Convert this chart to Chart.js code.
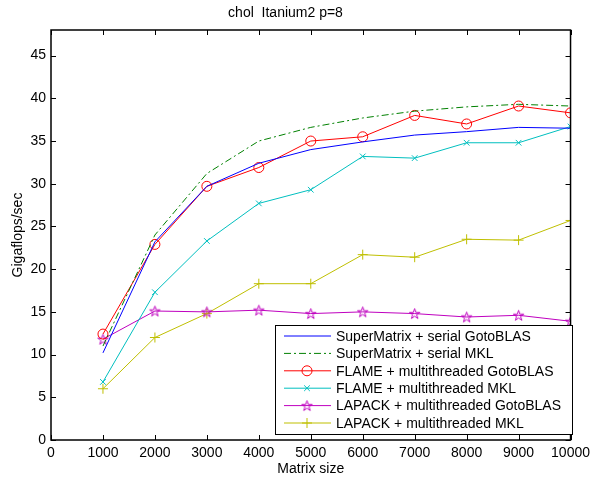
<!DOCTYPE html>
<html>
<head>
<meta charset="utf-8">
<script src="https://cdn.jsdelivr.net/npm/chart.js@4.4.0/dist/chart.umd.min.js"></script>
<style>
  html, body { margin: 0; padding: 0; background: #fff; }
  #wrap { width: 595px; height: 478px; }
</style>
</head>
<body>
<div id="wrap"><canvas id="c" width="595" height="478"></canvas></div>
<script>
/* ── data ─────────────────────────────────────────────── */
const sizes = [1000, 2000, 3000, 4000, 5000, 6000, 7000, 8000, 9000, 10000];

const smGoto   = [10.2, 23.2, 29.7, 32.4, 34.0, 34.9, 35.7, 36.1, 36.6, 36.5];
const smMkl    = [11.0, 24.0, 31.2, 35.0, 36.6, 37.7, 38.5, 39.0, 39.3, 39.1];
const flGoto   = [12.4, 22.9, 29.7, 31.9, 35.0, 35.5, 38.0, 37.0, 39.1, 38.3];
const flMkl    = [6.8, 17.3, 23.3, 27.7, 29.3, 33.2, 33.0, 34.8, 34.8, 36.7];
const lapGoto  = [11.8, 15.1, 15.0, 15.2, 14.8, 15.0, 14.8, 14.4, 14.6, 13.9];
const lapMkl   = [6.0, 12.0, 14.8, 18.3, 18.3, 21.7, 21.4, 23.5, 23.4, 25.7];

const seriesLabels = [
  'SuperMatrix + serial GotoBLAS',
  'SuperMatrix + serial MKL',
  'FLAME + multithreaded GotoBLAS',
  'FLAME + multithreaded MKL',
  'LAPACK + multithreaded GotoBLAS',
  'LAPACK + multithreaded MKL'
];

const FONT = 'Liberation Sans, Arial, sans-serif';

/* pentagram marker (matlab 'p') */
function pentagram(color) {
  const s = 13, c = document.createElement('canvas');
  c.width = s; c.height = s;
  const g = c.getContext('2d');
  const R = 5.5, r = R * 0.382, cx = s / 2, cy = s / 2 + 0.5;
  g.beginPath();
  for (let i = 0; i < 10; i++) {
    const a = -Math.PI / 2 + i * Math.PI / 5;
    const rr = i % 2 ? r : R;
    g.lineTo(cx + rr * Math.cos(a), cy + rr * Math.sin(a));
  }
  g.closePath();
  g.strokeStyle = color; g.lineWidth = 1;
  g.stroke();
  return c;
}

const star = pentagram('#bf00bf');

function pts(arr) { return sizes.map((x, i) => ({ x: x, y: arr[i] })); }

const datasets = [
  { data: pts(smGoto), borderColor: '#0000ff', pointRadius: 0 },
  { data: pts(smMkl), borderColor: '#008000', borderDash: [7, 3, 2, 3], pointRadius: 0 },
  { data: pts(flGoto), borderColor: '#ff0000', pointStyle: 'circle', pointRadius: 5 },
  { data: pts(flMkl), borderColor: '#00bfbf', pointStyle: 'crossRot', pointRadius: 4 },
  { data: pts(lapGoto), borderColor: '#bf00bf', pointStyle: star, pointRadius: 6 },
  { data: pts(lapMkl), borderColor: '#bfbf00', pointStyle: 'cross', pointRadius: 5 }
].map((d, i) => Object.assign({
  label: seriesLabels[i],
  borderWidth: 1,
  pointBorderColor: d.borderColor,
  pointBackgroundColor: 'rgba(0,0,0,0)',
  pointBorderWidth: 1,
  pointHoverRadius: 0,
  tension: 0,
  fill: false
}, d));

/* ── axes box, inward ticks on all four sides, legend ── */
const framePlugin = {
  id: 'frame',
  afterDatasetsDraw(chart) {
    const { ctx, chartArea: a, scales: { x, y } } = chart;
    ctx.save();
    ctx.strokeStyle = '#000';
    ctx.lineWidth = 1;
    const tl = 5;
    ctx.beginPath();
    x.ticks.forEach(t => {
      const px = Math.round(x.getPixelForValue(t.value)) + 0.5;
      ctx.moveTo(px, a.bottom); ctx.lineTo(px, a.bottom - tl);
      ctx.moveTo(px, a.top); ctx.lineTo(px, a.top + tl);
    });
    y.ticks.forEach(t => {
      const py = Math.round(y.getPixelForValue(t.value)) + 0.5;
      ctx.moveTo(a.left, py); ctx.lineTo(a.left + tl, py);
      ctx.moveTo(a.right, py); ctx.lineTo(a.right - tl, py);
    });
    ctx.stroke();
    ctx.lineWidth = 1.5;
    ctx.strokeRect(a.left, a.top, a.right - a.left, a.bottom - a.top);

    /* legend */
    const lx = 275, ly = 325, lw = 297, lh = 109, row = 17.4;
    ctx.fillStyle = '#fff';
    ctx.fillRect(lx, ly, lw, lh);
    ctx.lineWidth = 1;
    ctx.strokeRect(lx + 0.5, ly + 0.5, lw, lh);
    ctx.font = '14px ' + FONT;
    ctx.textBaseline = 'middle';
    chart.data.datasets.forEach((d, i) => {
      const cy = ly + 11 + i * row;
      ctx.save();
      ctx.strokeStyle = d.borderColor;
      ctx.lineWidth = 1;
      ctx.setLineDash(d.borderDash || []);
      ctx.beginPath();
      ctx.moveTo(lx + 9, cy); ctx.lineTo(lx + 56, cy);
      ctx.stroke();
      ctx.restore();
      if (d.pointRadius > 0) {
        ctx.save();
        ctx.strokeStyle = d.borderColor;
        ctx.fillStyle = 'rgba(0,0,0,0)';
        ctx.lineWidth = 1;
        Chart.helpers.drawPoint(ctx, {
          pointStyle: d.pointStyle, radius: d.pointRadius, rotation: 0,
          borderWidth: 1
        }, lx + 32, cy);
        ctx.restore();
      }
      ctx.fillStyle = '#000';
      ctx.fillText(d.label, lx + 61, cy + 1);
    });
    ctx.restore();
  }
};

new Chart(document.getElementById('c'), {
  type: 'line',
  data: { datasets: datasets },
  plugins: [framePlugin],
  options: {
    responsive: false,
    animation: false,
    events: [],
    layout: { padding: { top: 0, right: 24, left: 0, bottom: 0 } },
    plugins: {
      legend: { display: false },
      tooltip: { enabled: false },
      title: {
        display: true,
        text: 'chol  Itanium2 p=8',
        color: '#000',
        font: { family: FONT, size: 14, weight: 'normal' },
        padding: { top: 5, bottom: 8.2 }
      }
    },
    scales: {
      x: {
        type: 'linear', min: 0, max: 10000,
        ticks: {
          stepSize: 1000, color: '#000', font: { family: FONT, size: 14 }, maxRotation: 0, padding: 5,
          callback: v => String(v)
        },
        grid: { display: false, drawTicks: false },
        border: { display: false },
        title: { display: true, text: 'Matrix size', color: '#000', font: { family: FONT, size: 14 }, padding: 0 },
        afterFit(s) { s.height = 38; }
      },
      y: {
        min: 0, max: 48,
        afterBuildTicks(s) { s.ticks = s.ticks.filter(t => t.value % 5 === 0); },
        ticks: { stepSize: 5, color: '#000', font: { family: FONT, size: 14 }, padding: 5 },
        grid: { display: false, drawTicks: false },
        border: { display: false },
        title: { display: true, text: 'Gigaflops/sec', color: '#000', font: { family: FONT, size: 14 }, padding: { top: 10, bottom: 0 } },
        afterFit(s) { s.width = 51; }
      }
    }
  }
});
</script>
</body>
</html>
